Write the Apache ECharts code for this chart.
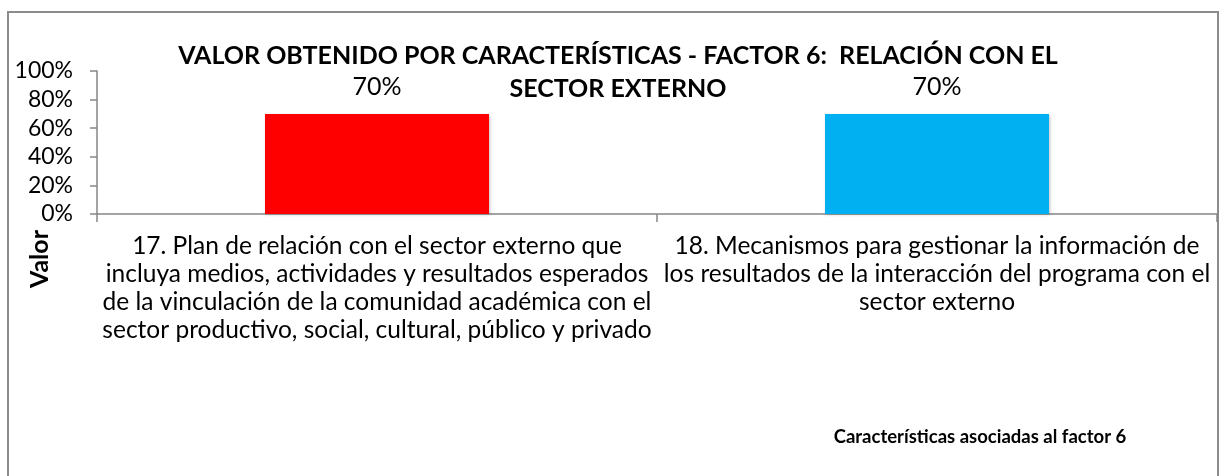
<!DOCTYPE html>
<html>
<head>
<meta charset="utf-8">
<title>Factor 6</title>
<script src="https://cdn.jsdelivr.net/npm/echarts@6/dist/echarts.min.js"></script>
<style>
  html, body { margin: 0; padding: 0; background: #fff; }
  #chart { width: 1219px; height: 476px; }
</style>
</head>
<body>
<div id="chart"></div>
<script>
(function () {
    'use strict';

    var categories = [
        '17. Plan de relación con el sector externo que\nincluya medios, actividades y resultados esperados\nde la vinculación de la comunidad académica con el\nsector productivo, social, cultural, público y privado',
        '18. Mecanismos para gestionar la información de\nlos resultados de la interacción del programa con el\nsector externo'
    ];
    var values = [0.70, 0.70];
    var barColors = ['#FF0000', '#00B0F0'];
    var yTicks = [0, 0.2, 0.4, 0.6, 0.8, 1];

    var titleText = 'VALOR OBTENIDO POR CARACTERÍSTICAS - FACTOR 6:  RELACIÓN CON EL\nSECTOR EXTERNO';
    var yName = 'Valor';
    var xName = 'Características asociadas al factor 6';

    var font = 'Lato, "Open Sans", sans-serif';
    var chart = echarts.init(document.getElementById('chart'));

    var option = {
        backgroundColor: '#fff',
        animation: false,
        textStyle: { fontFamily: font },
        title: {
            text: titleText,
            left: 613,
            top: 34,
            textAlign: 'center',
            textStyle: { fontFamily: font, fontSize: 25, fontWeight: 'bold', color: '#000', lineHeight: 33 }
        },
        grid: { left: 97, right: 2, top: 71, height: 143 },
        xAxis: {
            type: 'category',
            data: categories,
            axisLine: { lineStyle: { color: '#868686', width: 1.5 } },
            axisTick: { show: true, length: 8, lineStyle: { color: '#868686', width: 1.5 } },
            axisLabel: {
                interval: 0, color: '#000', fontSize: 24.5, lineHeight: 28, margin: 18,
                fontFamily: font, align: 'center'
            }
        },
        yAxis: {
            type: 'value',
            min: yTicks[0],
            max: yTicks[yTicks.length - 1],
            interval: 0.2,
            splitLine: { show: false },
            axisLine: { show: true, lineStyle: { color: '#868686', width: 1.5 } },
            axisTick: { show: true, length: 7, lineStyle: { color: '#868686', width: 1.5 } },
            axisLabel: {
                color: '#000', fontSize: 23, margin: 24, fontFamily: font,
                formatter: function (v) { return Math.round(v * 100) + '%'; }
            }
        },
        series: [{
            type: 'bar',
            barWidth: '40%',
            data: values.map(function (v, i) {
                return { value: v, itemStyle: { color: barColors[i] } };
            }),
            itemStyle: { shadowBlur: 3, shadowColor: 'rgba(0,0,0,0.25)', shadowOffsetX: 1, shadowOffsetY: 1 },
            label: {
                show: true, position: 'top', distance: 14, color: '#000', fontSize: 25, fontFamily: font,
                formatter: function (p) { return Math.round(p.value * 100) + '%'; }
            }
        }],
        graphic: [
            {
                type: 'rect', silent: true, z: -1,
                shape: { x: 8, y: 12, width: 1210, height: 480 },
                style: { fill: 'none', stroke: '#8c8c8c', lineWidth: 2 }
            },
            {
                type: 'text', x: 40, y: 259, rotation: Math.PI / 2,
                style: { text: yName, font: 'bold 25px ' + font, fill: '#000', align: 'center', verticalAlign: 'middle' }
            },
            {
                type: 'text', x: 980, y: 437,
                style: { text: xName, font: 'bold 18.5px ' + font, fill: '#000', align: 'center', verticalAlign: 'middle' }
            }
        ]
    };

    chart.setOption(option);
})();
</script>
</body>
</html>
